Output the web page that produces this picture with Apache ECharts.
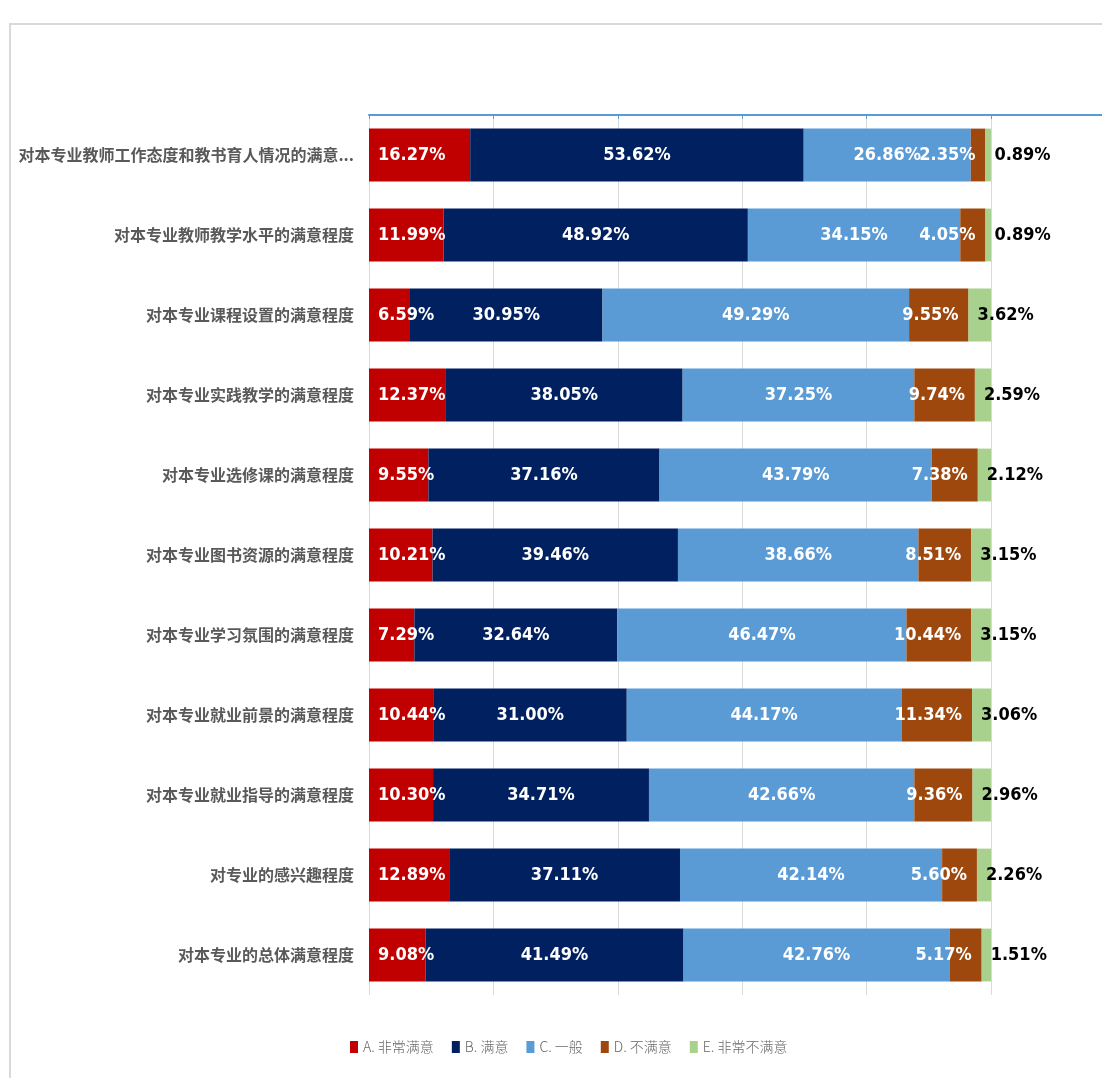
<!DOCTYPE html>
<html>
<head>
<meta charset="utf-8">
<script src="https://cdn.jsdelivr.net/npm/echarts@6/dist/echarts.min.js"></script>
<style>
html,body{margin:0;padding:0;background:#fff;}
#chart{width:1102px;height:1078px;}
</style>
</head>
<body>
<div id="chart"></div>
<script>
const categories = [
  '对本专业教师工作态度和教书育人情况的满意程度',
  '对本专业教师教学水平的满意程度',
  '对本专业课程设置的满意程度',
  '对本专业实践教学的满意程度',
  '对本专业选修课的满意程度',
  '对本专业图书资源的满意程度',
  '对本专业学习氛围的满意程度',
  '对本专业就业前景的满意程度',
  '对本专业就业指导的满意程度',
  '对专业的感兴趣程度',
  '对本专业的总体满意程度'
];
const seriesNames = ['A. 非常满意', 'B. 满意', 'C. 一般', 'D. 不满意', 'E. 非常不满意'];
const valuesA = [16.27, 11.99, 6.59, 12.37, 9.55, 10.21, 7.29, 10.44, 10.30, 12.89, 9.08];
const valuesB = [53.62, 48.92, 30.95, 38.05, 37.16, 39.46, 32.64, 31.00, 34.71, 37.11, 41.49];
const valuesC = [26.86, 34.15, 49.29, 37.25, 43.79, 38.66, 46.47, 44.17, 42.66, 42.14, 42.76];
const valuesD = [2.35, 4.05, 9.55, 9.74, 7.38, 8.51, 10.44, 11.34, 9.36, 5.60, 5.17];
const valuesE = [0.89, 0.89, 3.62, 2.59, 2.12, 3.15, 3.15, 3.06, 2.96, 2.26, 1.51];
const xTicks = [0, 20, 40, 60, 80, 100];

const colors = ['#C00000', '#002060', '#5B9BD5', '#9E480E', '#A9D18E'];
const allValues = [valuesA, valuesB, valuesC, valuesD, valuesE];
const labelFont = "'Liberation Sans Narrow','DejaVu Sans Condensed','Roboto Condensed','Liberation Sans',sans-serif";
const labelConf = [
  {position: 'insideLeft', distance: 9, color: '#fff'},
  {position: 'inside', color: '#fff'},
  {position: 'inside', color: '#fff'},
  {position: 'insideRight', distance: 10, color: '#fff'},
  {position: 'insideLeft', distance: 9, color: '#000'}
];

const chart = echarts.init(document.getElementById('chart'), null, {renderer: 'canvas'});
const series = seriesNames.map((name, i) => ({
  name: name,
  type: 'bar',
  stack: 'total',
  barCategoryGap: '34%',
  itemStyle: {color: colors[i]},
  label: {
    show: true,
    position: labelConf[i].position,
    distance: labelConf[i].distance,
    color: labelConf[i].color,
    fontFamily: labelFont,
    fontWeight: 'bold',
    fontSize: 18,
    formatter: p => p.value.toFixed(2) + '%'
  },
  labelLayout: {hideOverlap: false},
  emphasis: {disabled: true},
  data: allValues[i]
}));

chart.setOption({
  animation: false,
  backgroundColor: '#fff',
  grid: {left: 369, right: 111, top: 115, bottom: 83, containLabel: false},
  xAxis: {
    type: 'value',
    position: 'top',
    min: xTicks[0],
    max: xTicks[xTicks.length - 1],
    interval: xTicks[1] - xTicks[0],
    axisLine: {show: true, lineStyle: {color: '#5B9BD5', width: 2}},
    axisTick: {show: true, inside: true, length: 4, lineStyle: {color: '#5B9BD5', width: 1}},
    axisLabel: {show: false},
    splitLine: {show: true, lineStyle: {color: '#D9D9D9', width: 1}}
  },
  yAxis: {
    type: 'category',
    inverse: true,
    data: categories,
    axisLine: {show: false},
    axisTick: {show: false},
    axisLabel: {
      margin: 15,
      color: '#595959',
      fontFamily: "'Noto Sans CJK SC', sans-serif",
      fontWeight: 'bold',
      fontSize: 16,
      width: 345,
      overflow: 'truncate',
      ellipsis: '...'
    }
  },
  legend: {
    bottom: 19,
    left: 345,
    icon: 'rect',
    itemWidth: 8,
    itemHeight: 12,
    itemGap: 18,
    textStyle: {color: '#666', fontSize: 14, fontWeight: 300, fontFamily: "'Noto Sans CJK SC', sans-serif"},
    data: seriesNames
  },
  graphic: [
    {type: 'rect', shape: {x: 10, y: 24, width: 1200, height: 1200}, style: {fill: 'none', stroke: '#D9D9D9', lineWidth: 2}, silent: true},
    {type: 'line', shape: {x1: 991, y1: 115, x2: 1102, y2: 115}, style: {stroke: '#5B9BD5', lineWidth: 2}, silent: true}
  ],
  series: series
});
</script>
</body>
</html>
